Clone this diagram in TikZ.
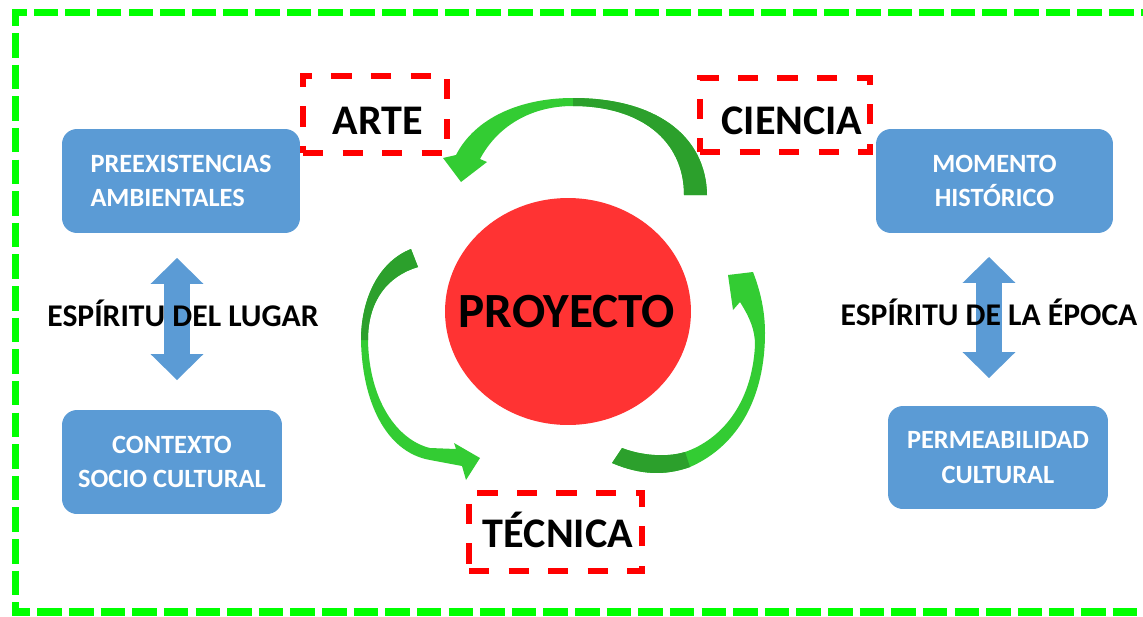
\documentclass[tikz,border=0pt]{standalone}
\usepackage{fontspec}
\setmainfont{Carlito}
\usepackage{xcolor}
\usepackage{tikz}
\usetikzlibrary{positioning,shapes.geometric,arrows.meta}

\definecolor{boxblue}{HTML}{5B9BD5}
\definecolor{projred}{HTML}{FF3333}
\definecolor{dashred}{HTML}{FF0000}
\definecolor{framegreen}{HTML}{00FF00}
\definecolor{arrlight}{HTML}{33CC33}
\definecolor{arrdark}{HTML}{2CA02C}

\tikzset{
	blubox/.style={rounded corners=8.5pt, fill=boxblue, text=white, inner sep=0, font=\bfseries\fontsize{15}{19.8}\selectfont},
	dashbox/.style={draw=dashred, line width=3pt, dash pattern=on 11.5pt off 11pt, inner sep=0},
	bigtxt/.style={font=\bfseries\fontsize{24}{28}\selectfont, inner sep=0, anchor=base},
	sidetxt/.style={font=\bfseries\fontsize{18}{22}\selectfont, inner sep=0, anchor=base},
	dblarrow/.style={draw=boxblue, line width=15.3pt, arrows={Triangle[length=14.7pt,width=30pt,line width=0pt]-Triangle[length=14.7pt,width=30pt,line width=0pt]}},
}

\begin{document}
\begin{tikzpicture}[x=0.02cm, y=-0.02cm]
	\useasboundingbox (0,0) rectangle (1143,616);
	\draw[framegreen, line width=4pt, dash pattern=on 14pt off 4pt] (1260,12.5) -- (15.5,12.5) -- (15.5,612) -- (1260,612);

	\node[blubox, align=left, minimum width=4.76cm, minimum height=2.08cm] (pre) at (181,181) {PREEXISTENCIAS\\AMBIENTALES};
	\node[blubox, align=center, minimum width=4.40cm, minimum height=2.08cm] (ctx) at (172,462) {CONTEXTO\\SOCIO CULTURAL};
	\node[blubox, align=center, minimum width=4.74cm, minimum height=2.08cm] (mom) at (994.5,181) {MOMENTO\\HISTÓRICO};
	\node[blubox, align=center, minimum width=4.40cm, minimum height=2.06cm] (perm) at (998,457.5) {PERMEABILIDAD\\CULTURAL};

	\coordinate (lugtop) at (177,258);
	\coordinate (lugbot) at (177,380);
	\coordinate (epotop) at (989,257);
	\coordinate (epobot) at (989,378);
	\draw[dblarrow] (lugtop) -- (lugbot);
	\draw[dblarrow] (epotop) -- (epobot);
	\node[sidetxt] (lugar) at (183,326) {ESPÍRITU DEL LUGAR};
	\node[sidetxt] (epoca) at (989,325) {ESPÍRITU DE LA ÉPOCA};

	\node[ellipse, fill=projred, minimum width=4.92cm, minimum height=4.54cm, inner sep=0] (proy) at (568,311.5) {};
	\node[font=\bfseries\fontsize{28}{32}\selectfont, inner sep=0, anchor=base] (proytxt) at (567,327) {PROYECTO};

	\node[dashbox, minimum width=2.88cm, minimum height=1.54cm] (arte) at (375,114.5) {};
	\node[bigtxt] (artetxt) at (378,134) {ARTE};
	\node[dashbox, minimum width=3.40cm, minimum height=1.48cm] (cien) at (785,115) {};
	\node[bigtxt] (ciencia) at (792,134) {CIENCIA};
	\node[dashbox, minimum width=3.46cm, minimum height=1.56cm] (tec) at (555.5,532) {};
	\node[bigtxt] (tectxt) at (558,547) {TÉCNICA};

	\fill[arrlight] (707,195) .. controls (706,135) and (655,98) .. (573,98) .. controls (520,98) and (475,118) .. (456,155) -- (443,158) -- (461,182) -- (487,162) -- (480,159) .. controls (497,127) and (530,106) .. (573,106) .. controls (640,106) and (684,140) .. (684,195) -- cycle;
	\fill[arrdark] (707,195) .. controls (706,135) and (655,98) .. (573,98) -- (573,106) .. controls (640,106) and (684,140) .. (684,195) -- cycle;

	\fill[arrlight] (411,249) .. controls (378,262) and (361,300) .. (361,340) .. controls (362,400) and (385,452) .. (430,460) -- (462,466) -- (466,480) -- (480,458) -- (454,443) -- (456,449) -- (430,448) .. controls (397,440) and (369,400) .. (368,340) .. controls (368,300) and (388,276) .. (418,267) -- cycle;
	\fill[arrdark] (411,249) .. controls (378,262) and (361,300) .. (361,340) -- (368,340) .. controls (368,300) and (388,276) .. (418,267) -- cycle;

	\fill[arrlight] (612,463) .. controls (640,475) and (665,476) .. (690,467) .. controls (740,445) and (765,395) .. (765,333) .. controls (765,310) and (760,290) .. (753,272) -- (728,275) -- (733,310) -- (740,302) .. controls (750,318) and (755,330) .. (755,345) .. controls (752,405) and (720,440) .. (685,452) .. controls (665,458) and (640,455) .. (622,448) -- cycle;
	\fill[arrdark] (612,463) .. controls (640,475) and (665,476) .. (690,467) -- (685,452) .. controls (665,458) and (640,455) .. (622,448) -- cycle;
\end{tikzpicture}
\end{document}
